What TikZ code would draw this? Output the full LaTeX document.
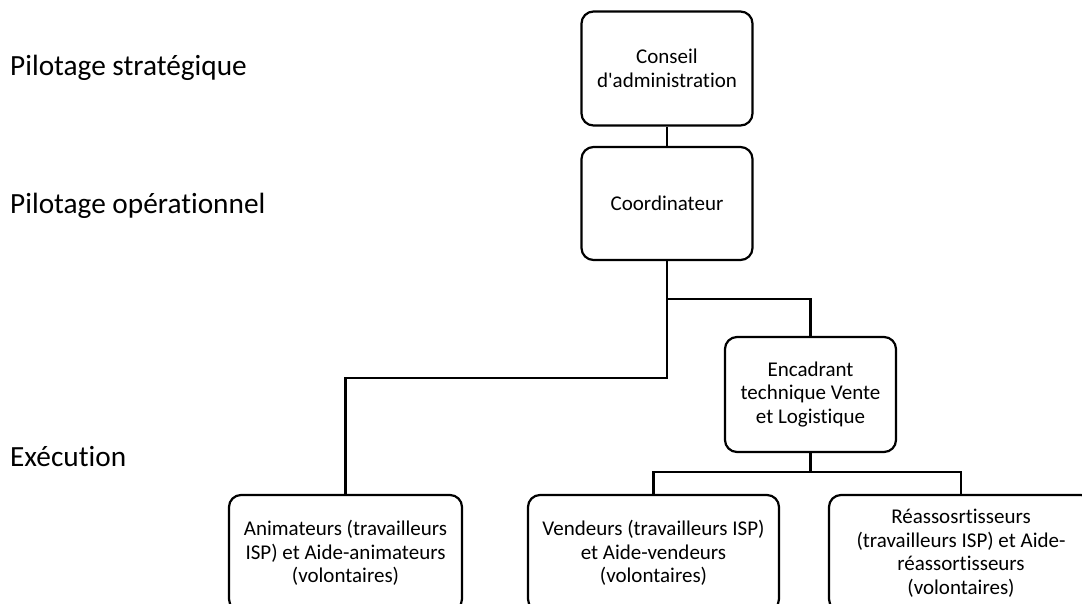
\documentclass[tikz,border=0pt]{standalone}
\usepackage{fontspec}
\setmainfont{Carlito}[Ligatures={NoCommon}]
\begin{document}
\begin{tikzpicture}[x=1pt,y=-1pt,
  box/.style={draw=black, line width=2.2pt, rounded corners=12pt, align=center,
    font=\fontsize{21}{23.5}\selectfont, inner sep=2pt},
  lvl/.style={anchor=base west, font=\fontsize{29.3}{32}\selectfont, inner sep=0pt},
  conn/.style={draw=black, line width=2.2pt}]
\useasboundingbox (0,0) rectangle (1082,603);
\clip (0,0) rectangle (1082,603);
\node[lvl] (l1) at (10,75) {Pilotage stratégique};
\node[lvl] (l2) at (10,213) {Pilotage opérationnel};
\node[lvl] (l3) at (10,466) {Exécution};
\node[box, minimum width=171pt, minimum height=114pt] (conseil) at (667,68.5) {Conseil\\d\textquotesingle administration};
\node[box, minimum width=171pt, minimum height=113pt] (coord) at (667,203.5) {Coordinateur};
\node[box, minimum width=171pt, minimum height=115pt] (encad) at (810.5,394.5) {Encadrant\\technique Vente\\et Logistique};
\node[box, minimum width=233pt, minimum height=116pt] (anim) at (345.5,553) {Animateurs (travailleurs\\ISP) et Aide-animateurs\\(volontaires)};
\node[box, minimum width=251pt, minimum height=116pt] (vend) at (653.5,553) {Vendeurs (travailleurs ISP)\\et Aide-vendeurs\\(volontaires)};
\node[box, minimum width=264pt, minimum height=116pt] (reasso) at (961,553) {Réassosrtisseurs\\(travailleurs ISP) et Aide-\\réassortisseurs\\(volontaires)};
\coordinate (b1) at (667,299);
\coordinate (b2) at (667,378);
\coordinate (b3) at (810.5,472);
\draw[conn] (conseil) -- (coord);
\draw[conn] (coord.south) -- (b1) -| (encad.north);
\draw[conn] (b1) -- (b2) -| (anim.north);
\draw[conn] (encad.south) -- (b3);
\draw[conn] (vend.north) |- (b3) -| (reasso.north);
\end{tikzpicture}
\end{document}
